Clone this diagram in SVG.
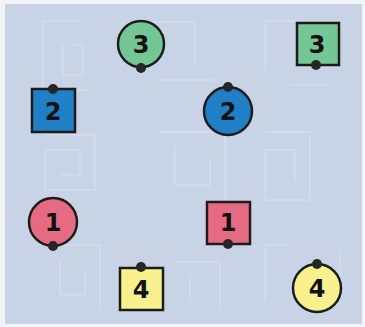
<svg xmlns="http://www.w3.org/2000/svg" width="365" height="327" viewBox="0 0 365 327">
<style>
.maze{fill:none;stroke:#dbe2f0;stroke-width:1.6;opacity:0.6}
.sh{stroke:#1c1c1c;stroke-width:2.5}
.dot{fill:#262626}
.num{font-family:"DejaVu Sans","Liberation Sans",sans-serif;font-weight:bold;font-size:24px;fill:#111;text-anchor:middle}
.g{fill:#74c795}.b{fill:#1f80c8}.r{fill:#e66b82}.y{fill:#f8f18e}
</style>
<rect x="0" y="0" width="365" height="327" fill="#f2f4f8"/>
<rect x="5" y="4" width="357" height="320" fill="#c9d3e6"/>
<g id="maze">
<path class="maze" d="M43 21H83M43 21V90H90M63 45V75H83V45H70"/>
<path class="maze" d="M150 22H195V65M160 80H215"/>
<path class="maze" d="M265 21H300M265 21V70M290 85H330"/>
<path class="maze" d="M45 135H95V190H45V150H80V175H60"/>
<path class="maze" d="M160 132H225V200M175 145V185H210V160"/>
<path class="maze" d="M265 132H310V200H265V150H295V180"/>
<path class="maze" d="M45 245H100V310M60 260V295H85V270"/>
<path class="maze" d="M175 262H220V310M190 275V300"/>
<path class="maze" d="M265 245H290M265 245V300M340 250V300"/>
</g>
<g id="node-circle-3">
<circle class="sh g" cx="141" cy="44" r="23"/>
<circle class="dot" cx="141" cy="68" r="5"/>
<text class="num" x="141" y="53">3</text>
</g>
<g id="node-square-3">
<rect class="sh g" x="297" y="23" width="42" height="42"/>
<circle class="dot" cx="316" cy="65" r="5"/>
<text class="num" x="317" y="53">3</text>
</g>
<g id="node-square-2">
<rect class="sh b" x="32" y="89" width="43" height="43"/>
<circle class="dot" cx="53" cy="89" r="5"/>
<text class="num" x="53" y="120">2</text>
</g>
<g id="node-circle-2">
<circle class="sh b" cx="228" cy="111" r="24"/>
<circle class="dot" cx="228" cy="87" r="5"/>
<text class="num" x="228" y="120">2</text>
</g>
<g id="node-circle-1">
<circle class="sh r" cx="53" cy="222" r="24"/>
<circle class="dot" cx="53" cy="246" r="5"/>
<text class="num" x="53" y="231">1</text>
</g>
<g id="node-square-1">
<rect class="sh r" x="207" y="202" width="43" height="42"/>
<circle class="dot" cx="228" cy="244" r="5"/>
<text class="num" x="228" y="231">1</text>
</g>
<g id="node-square-4">
<rect class="sh y" x="120" y="268" width="43" height="42"/>
<circle class="dot" cx="141" cy="267" r="5"/>
<text class="num" x="141" y="298">4</text>
</g>
<g id="node-circle-4">
<circle class="sh y" cx="317" cy="288" r="24"/>
<circle class="dot" cx="317" cy="264" r="5"/>
<text class="num" x="317" y="297">4</text>
</g>
</svg>
